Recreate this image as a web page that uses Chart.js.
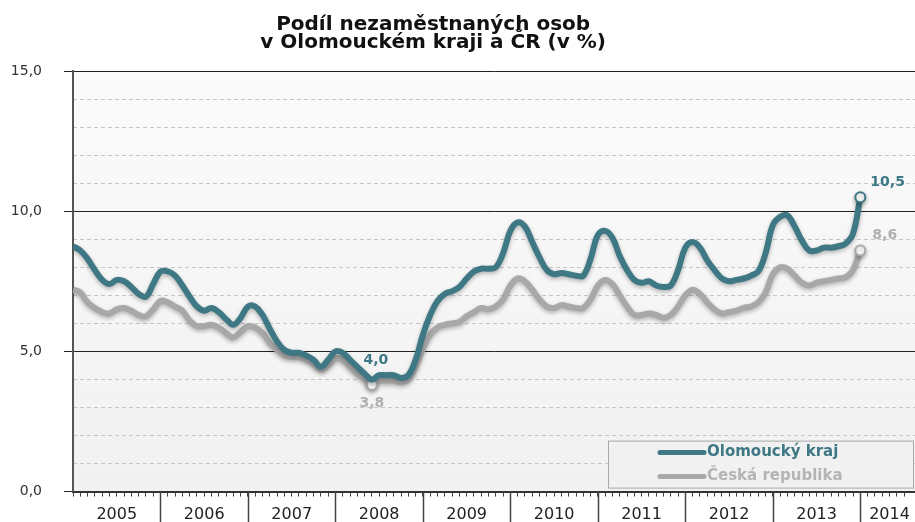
<!DOCTYPE html>
<html>
<head>
<meta charset="utf-8">
<script src="https://cdn.jsdelivr.net/npm/chart.js@4.4.1/dist/chart.umd.min.js"></script>
<style>
  html, body { margin: 0; padding: 0; background: #fff; }
</style>
</head>
<body>
<canvas id="nezamestnanostChart" width="915" height="522"></canvas>
<script>
// Roky na ose x (každý rok = 12 měsíců, leden 2005 až leden 2014)
const years = ['2005', '2006', '2007', '2008', '2009', '2010', '2011', '2012', '2013', '2014'];

const seriesNames = ['Olomoucký kraj', 'Česká republika'];
const titleLines = ['Podíl nezaměstnaných osob', 'v Olomouckém kraji a ČR (v %)'];

// Podíl nezaměstnaných osob (%), měsíčně
const olomoucky = [
  8.75, 8.6, 8.3, 7.9, 7.55, 7.4, 7.55, 7.5, 7.3, 7.05, 6.95, 7.4,      // 2005
  7.85, 7.85, 7.7, 7.35, 6.95, 6.6, 6.45, 6.55, 6.4, 6.15, 5.95, 6.2,   // 2006
  6.6, 6.6, 6.3, 5.8, 5.35, 5.05, 4.95, 4.95, 4.85, 4.7, 4.45, 4.7,     // 2007
  5.0, 4.95, 4.7, 4.45, 4.2, 4.0, 4.15, 4.15, 4.15, 4.05, 4.15, 4.7,    // 2008
  5.6, 6.3, 6.8, 7.05, 7.15, 7.3, 7.6, 7.85, 7.95, 7.95, 8.0, 8.5,      // 2009
  9.3, 9.6, 9.45, 8.9, 8.35, 7.9, 7.75, 7.8, 7.75, 7.7, 7.7, 8.3,       // 2010
  9.15, 9.3, 9.05, 8.4, 7.9, 7.55, 7.45, 7.5, 7.35, 7.3, 7.35, 7.9,     // 2011
  8.7, 8.9, 8.7, 8.25, 7.9, 7.6, 7.5, 7.55, 7.6, 7.7, 7.85, 8.5,        // 2012
  9.5, 9.8, 9.85, 9.45, 8.95, 8.6, 8.6, 8.7, 8.7, 8.75, 8.85, 9.2,      // 2013
  10.5                                                                 // 2014
];

const ceskaRepublika = [
  7.2, 7.1, 6.75, 6.55, 6.4, 6.35, 6.5, 6.55, 6.45, 6.3, 6.25, 6.5,     // 2005
  6.8, 6.75, 6.6, 6.45, 6.1, 5.9, 5.9, 5.95, 5.85, 5.65, 5.5, 5.7,      // 2006
  5.9, 5.85, 5.65, 5.3, 5.05, 4.85, 4.8, 4.8, 4.7, 4.55, 4.35, 4.5,     // 2007
  4.75, 4.7, 4.45, 4.2, 4.0, 3.8, 3.95, 3.95, 3.95, 3.9, 4.0, 4.45,     // 2008
  5.1, 5.6, 5.85, 5.95, 6.0, 6.05, 6.25, 6.4, 6.55, 6.5, 6.6, 6.85,     // 2009
  7.35, 7.6, 7.5, 7.2, 6.85, 6.6, 6.55, 6.65, 6.6, 6.55, 6.55, 6.85,    // 2010
  7.35, 7.55, 7.4, 7.0, 6.6, 6.3, 6.3, 6.35, 6.3, 6.2, 6.3, 6.6,        // 2011
  7.0, 7.2, 7.05, 6.75, 6.5, 6.35, 6.4, 6.45, 6.55, 6.6, 6.75, 7.1,     // 2012
  7.75, 8.0, 7.95, 7.7, 7.45, 7.35, 7.45, 7.5, 7.55, 7.6, 7.65, 7.9,    // 2013
  8.6                                                                  // 2014
];

const TEAL = '#3d7884';
const GREY = '#a8a8a8';
const X_MAX = 115.5; // osa pokračuje kousek do roku 2014

const fmt = v => v.toFixed(1).replace('.', ',');
const toPoints = arr => arr.map((v, i) => ({ x: i, y: v }));

// indexy bodů s popiskem: minimum ČR a poslední měsíc
const minIdx = ceskaRepublika.indexOf(Math.min(...ceskaRepublika));
const lastIdx = ceskaRepublika.length - 1;
const markIdx = [minIdx, lastIdx];

Chart.defaults.font.family = "'DejaVu Sans', sans-serif";

// světle šedé pozadí plochy grafu
const plotBackground = {
  id: 'plotBackground',
  beforeDraw(chart) {
    const { ctx, chartArea: a } = chart;
    const g = ctx.createLinearGradient(0, a.top, 0, a.bottom);
    g.addColorStop(0, '#fbfbfb');
    g.addColorStop(1, '#f1f1f1');
    ctx.save();
    ctx.fillStyle = g;
    ctx.fillRect(a.left, a.top, a.width, a.height);
    ctx.restore();
  }
};

// jemný stín pod čarami
const lineShadow = {
  id: 'lineShadow',
  beforeDatasetDraw(chart) {
    const ctx = chart.ctx;
    ctx.save();
    ctx.shadowColor = 'rgba(0,0,0,0.28)';
    ctx.shadowBlur = 4;
    ctx.shadowOffsetY = 2;
  },
  afterDatasetDraw(chart) {
    chart.ctx.restore();
  }
};

// oddělovače roků, popisky hodnot a legenda v rámečku
const extras = {
  id: 'extras',
  afterDraw(chart) {
    const { ctx, chartArea: a, scales } = chart;
    ctx.save();

    // svislé oddělovače roků pod osou
    ctx.strokeStyle = '#444';
    ctx.lineWidth = 1.5;
    for (let i = 1; i < years.length; i++) {
      const x = Math.round(scales.x.getPixelForValue(i * 12)) + 0.5;
      ctx.beginPath();
      ctx.moveTo(x, a.bottom);
      ctx.lineTo(x, chart.height);
      ctx.stroke();
    }

    // popisky hodnot
    ctx.font = "bold 14px 'DejaVu Sans'";
    const m0 = chart.getDatasetMeta(0).data;
    const m1 = chart.getDatasetMeta(1).data;
    ctx.textBaseline = 'middle';
    ctx.textAlign = 'center';
    ctx.fillStyle = TEAL;
    ctx.fillText(fmt(olomoucky[minIdx]), m0[minIdx].x + 4, m0[minIdx].y - 19);
    ctx.fillStyle = '#b0b0b0';
    ctx.fillText(fmt(ceskaRepublika[minIdx]), m1[minIdx].x, m1[minIdx].y + 18);
    ctx.textAlign = 'left';
    ctx.fillStyle = TEAL;
    ctx.fillText(fmt(olomoucky[lastIdx]), m0[lastIdx].x + 10, m0[lastIdx].y - 15);
    ctx.fillStyle = '#b0b0b0';
    ctx.fillText(fmt(ceskaRepublika[lastIdx]), m1[lastIdx].x + 12, m1[lastIdx].y - 15);

    // legenda
    const bw = 305, bh = 47;
    const bx = a.right - bw - 2, by = a.bottom - bh - 4;
    ctx.fillStyle = '#f1f1f1';
    ctx.fillRect(bx, by, bw, bh);
    ctx.strokeStyle = '#a9a9a9';
    ctx.lineWidth = 1;
    ctx.strokeRect(bx + 0.5, by + 0.5, bw, bh);

    const items = [
      { name: seriesNames[0], line: TEAL, text: TEAL, y: by + 12 },
      { name: seriesNames[1], line: GREY, text: '#b4b4b4', y: by + 36 }
    ];
    ctx.font = "bold 15px 'DejaVu Sans'";
    ctx.lineCap = 'round';
    items.forEach(it => {
      ctx.strokeStyle = it.line;
      ctx.lineWidth = 5;
      ctx.beginPath();
      ctx.moveTo(bx + 52, it.y);
      ctx.lineTo(bx + 96, it.y);
      ctx.stroke();
      ctx.fillStyle = it.text;
      ctx.fillText(it.name, bx + 99, it.y);
    });
    ctx.restore();
  }
};

const radiusFor = (idxList, r) => ctx => (idxList.includes(ctx.dataIndex) ? r : 0);

new Chart(document.getElementById('nezamestnanostChart'), {
  type: 'line',
  data: {
    datasets: [
      {
        label: seriesNames[0],
        data: toPoints(olomoucky),
        borderColor: TEAL,
        borderWidth: 6,
        tension: 0.4,
        pointRadius: radiusFor([lastIdx], 5),
        pointBackgroundColor: '#fff',
        pointBorderColor: TEAL,
        pointBorderWidth: 2
      },
      {
        label: seriesNames[1],
        data: toPoints(ceskaRepublika),
        borderColor: GREY,
        borderWidth: 6,
        tension: 0.4,
        pointRadius: radiusFor(markIdx, 5),
        pointBackgroundColor: '#fff',
        pointBorderColor: GREY,
        pointBorderWidth: 2
      }
    ]
  },
  options: {
    responsive: false,
    animation: false,
    layout: { padding: 0, autoPadding: false },
    plugins: {
      legend: { display: false },
      tooltip: { enabled: false },
      title: {
        display: true,
        text: titleLines.map(t => t + '       '),
        color: '#111',
        font: { size: 20, weight: 'bold', lineHeight: 0.9 },
        padding: { top: 16, bottom: 19 }
      }
    },
    scales: {
      x: {
        type: 'linear',
        min: 0,
        max: X_MAX,
        ticks: {
          stepSize: 1,
          autoSkip: false,
          maxRotation: 0,
          minRotation: 0,
          padding: 9,
          color: '#222',
          font: { size: 16 },
          callback: function (value) {
            if (!Number.isInteger(value)) return '';
            const i = Math.floor(value / 12);
            if (i >= years.length) return '';
            const start = i * 12;
            const mid = Math.round((start + Math.min(start + 12, X_MAX)) / 2);
            return value === mid ? years[i] : '';
          }
        },
        grid: {
          drawOnChartArea: false,
          tickLength: 5,
          tickColor: '#444',
          color: '#444'
        },
        border: { color: '#333', width: 2 },
        afterFit: s => {
          s.height = 30;
          s.paddingLeft = 0;
          s.paddingRight = 0;
        }
      },
      y: {
        min: 0,
        max: 15,
        ticks: {
          stepSize: 5,
          padding: 22,
          color: '#333',
          font: { size: 14 },
          callback: v => fmt(v)
        },
        grid: {
          color: '#222',
          lineWidth: 1,
          tickLength: 9,
          tickColor: '#222'
        },
        border: { color: '#555', width: 2 },
        afterFit: s => { s.width = 73; }
      },
      yMinor: {
        position: 'right',
        min: 0,
        max: 15,
        ticks: { display: false, stepSize: 1 },
        grid: {
          drawTicks: false,
          lineWidth: 1,
          color: c => (c.tick.value % 5 === 0 ? 'rgba(0,0,0,0)' : '#c6c6c6')
        },
        border: { display: false, dash: [4, 3] },
        afterFit: s => { s.width = 0; }
      }
    }
  },
  plugins: [plotBackground, lineShadow, extras]
});
</script>
</body>
</html>
